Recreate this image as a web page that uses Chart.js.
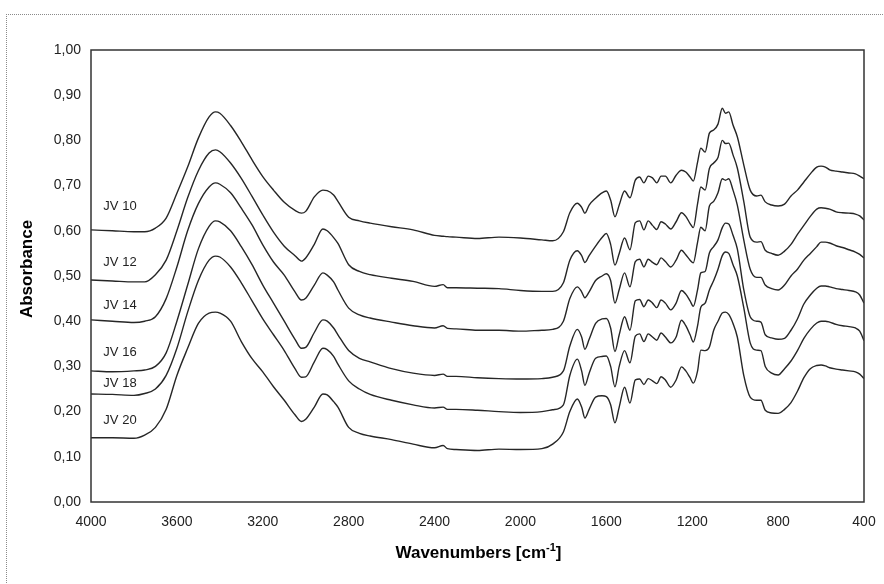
<!DOCTYPE html>
<html>
<head>
<meta charset="utf-8">
<script src="https://cdn.jsdelivr.net/npm/chart.js@4.4.1/dist/chart.umd.min.js"></script>
<style>
  html, body { margin: 0; padding: 0; background: #fff; }
  #wrap { position: relative; width: 884px; height: 584px; overflow: hidden; }
  #frame { position: absolute; left: 6px; top: 14px; width: 900px; height: 600px;
           border-top: 1px dotted #8a8a8a; border-left: 1px dotted #8a8a8a; pointer-events: none; }
  canvas { position: absolute; left: 0; top: 0; }
</style>
</head>
<body>
<div id="wrap">
  <canvas id="chart" width="884" height="584"></canvas>
  <div id="frame"></div>
</div>
<script>
// ── Data ────────────────────────────────────────────────────
const WN = [
  4000, 3900, 3800, 3750, 3700, 3650, 3600, 3550, 3500, 3450,
  3420, 3400, 3350, 3300, 3250, 3200, 3150, 3100, 3050, 3020,
  3000, 2960, 2920, 2900, 2870, 2850, 2800, 2750, 2700, 2600,
  2500, 2400, 2360, 2340, 2300, 2200, 2100, 2000, 1900, 1850,
  1800, 1770, 1735, 1715, 1700, 1680, 1650, 1620, 1600, 1580,
  1560, 1540, 1515, 1490, 1465, 1445, 1425, 1405, 1385, 1365,
  1345, 1325, 1300, 1275, 1250, 1230, 1210, 1195, 1175, 1160,
  1140, 1120, 1100, 1080, 1060, 1045, 1030, 1010, 990, 960,
  930, 900, 880, 860, 830, 800, 770, 740, 710, 680,
  650, 620, 600, 580, 560, 530, 500, 470, 440, 420,
  400
];

const JV10 = [
  0.602, 0.600, 0.598, 0.598, 0.606, 0.628, 0.683, 0.741, 0.805, 0.852,
  0.863, 0.860, 0.833, 0.797, 0.757, 0.720, 0.690, 0.663, 0.645, 0.639,
  0.643, 0.675, 0.690, 0.689, 0.679, 0.665, 0.630, 0.622, 0.617, 0.609,
  0.602, 0.590, 0.588, 0.587, 0.586, 0.583, 0.586, 0.584, 0.580, 0.578,
  0.598, 0.640, 0.661, 0.652, 0.639, 0.657, 0.672, 0.684, 0.688, 0.668,
  0.631, 0.657, 0.688, 0.673, 0.712, 0.719, 0.706, 0.721, 0.717, 0.706,
  0.721, 0.721, 0.706, 0.723, 0.734, 0.730, 0.719, 0.710, 0.752, 0.783,
  0.774, 0.816, 0.823, 0.836, 0.871, 0.860, 0.863, 0.834, 0.808, 0.746,
  0.690, 0.677, 0.679, 0.664, 0.657, 0.655, 0.659, 0.677, 0.690, 0.708,
  0.726, 0.741, 0.743, 0.741, 0.735, 0.732, 0.730, 0.728, 0.726, 0.721,
  0.715
];

const JV12 = [
  0.491, 0.489, 0.487, 0.487, 0.503, 0.535, 0.600, 0.673, 0.733, 0.772,
  0.779, 0.775, 0.750, 0.716, 0.676, 0.635, 0.597, 0.566, 0.545, 0.533,
  0.540, 0.570, 0.604, 0.600, 0.585, 0.572, 0.525, 0.510, 0.503, 0.495,
  0.488, 0.477, 0.481, 0.474, 0.474, 0.473, 0.472, 0.468, 0.466, 0.466,
  0.485, 0.535, 0.556, 0.545, 0.530, 0.545, 0.566, 0.585, 0.594, 0.570,
  0.524, 0.550, 0.584, 0.558, 0.618, 0.622, 0.602, 0.622, 0.612, 0.603,
  0.620, 0.615, 0.604, 0.620, 0.640, 0.632, 0.616, 0.607, 0.660, 0.697,
  0.690, 0.738, 0.750, 0.762, 0.800, 0.793, 0.794, 0.768, 0.739, 0.665,
  0.586, 0.575, 0.576, 0.557, 0.550, 0.546, 0.555, 0.570, 0.592, 0.612,
  0.632, 0.648, 0.651, 0.650, 0.648, 0.642, 0.640, 0.639, 0.637, 0.633,
  0.624
];

const JV14 = [
  0.403, 0.400, 0.397, 0.400, 0.410, 0.450, 0.520, 0.600, 0.660, 0.697,
  0.706, 0.703, 0.684, 0.650, 0.613, 0.569, 0.531, 0.502, 0.465, 0.447,
  0.451, 0.480, 0.507, 0.502, 0.487, 0.469, 0.429, 0.414, 0.407, 0.398,
  0.390, 0.385, 0.390, 0.384, 0.383, 0.380, 0.380, 0.378, 0.380, 0.382,
  0.400, 0.450, 0.476, 0.465, 0.452, 0.465, 0.490, 0.500, 0.505, 0.490,
  0.440, 0.470, 0.507, 0.476, 0.532, 0.537, 0.520, 0.537, 0.530, 0.525,
  0.540, 0.532, 0.520, 0.535, 0.557, 0.547, 0.535, 0.529, 0.575, 0.608,
  0.600, 0.655, 0.665, 0.684, 0.715, 0.712, 0.715, 0.690, 0.657, 0.580,
  0.515, 0.497, 0.497, 0.480, 0.472, 0.469, 0.480, 0.500, 0.515, 0.535,
  0.550, 0.565, 0.575, 0.575, 0.573, 0.567, 0.563, 0.558, 0.553, 0.548,
  0.540
];

const JV16 = [
  0.290, 0.288, 0.290, 0.292, 0.300, 0.330, 0.400, 0.480, 0.560, 0.610,
  0.622, 0.620, 0.600, 0.565, 0.525, 0.480, 0.440, 0.400, 0.360, 0.340,
  0.342, 0.375, 0.403, 0.400, 0.385, 0.370, 0.335, 0.318, 0.310, 0.295,
  0.285, 0.280, 0.283, 0.278, 0.278, 0.275, 0.273, 0.272, 0.273, 0.276,
  0.290, 0.345, 0.382, 0.365, 0.338, 0.360, 0.395, 0.405, 0.406, 0.385,
  0.333, 0.370, 0.410, 0.380, 0.445, 0.448, 0.432, 0.447, 0.440, 0.430,
  0.447, 0.440, 0.425, 0.440, 0.468, 0.460, 0.445, 0.433, 0.470, 0.507,
  0.510, 0.551, 0.565, 0.580, 0.607, 0.617, 0.615, 0.590, 0.560, 0.470,
  0.410, 0.400, 0.398, 0.370, 0.363, 0.360, 0.362, 0.380, 0.405, 0.438,
  0.458, 0.473, 0.478, 0.478, 0.476, 0.472, 0.470, 0.468, 0.465, 0.458,
  0.440
];

const JV18 = [
  0.239, 0.238, 0.236, 0.240, 0.250, 0.280, 0.340, 0.420, 0.490, 0.535,
  0.544, 0.542, 0.520, 0.485, 0.445, 0.405, 0.370, 0.335, 0.295, 0.276,
  0.277, 0.310, 0.340, 0.337, 0.322, 0.305, 0.268, 0.250, 0.238, 0.225,
  0.215, 0.208, 0.210, 0.205, 0.205, 0.203, 0.200, 0.198, 0.200, 0.204,
  0.215, 0.280, 0.316, 0.290, 0.258, 0.285, 0.318, 0.322, 0.323, 0.300,
  0.255, 0.300, 0.335, 0.308, 0.367, 0.372, 0.355, 0.372, 0.365, 0.358,
  0.374, 0.365, 0.352, 0.365, 0.402, 0.390, 0.370, 0.354, 0.390, 0.431,
  0.440, 0.469, 0.490, 0.515, 0.545, 0.553, 0.550, 0.525, 0.500, 0.430,
  0.352, 0.336, 0.335, 0.300, 0.285, 0.281, 0.295, 0.312, 0.335, 0.362,
  0.382, 0.396, 0.400, 0.400, 0.398, 0.393, 0.390, 0.388, 0.385, 0.378,
  0.357
];

const JV20 = [
  0.142, 0.142, 0.141, 0.148, 0.165, 0.205, 0.280, 0.340, 0.395, 0.418,
  0.420, 0.418, 0.400, 0.355, 0.317, 0.288, 0.255, 0.225, 0.193, 0.178,
  0.183, 0.210, 0.239, 0.237, 0.222, 0.210, 0.165, 0.152, 0.146, 0.138,
  0.128, 0.120, 0.125, 0.118, 0.116, 0.114, 0.117, 0.116, 0.118, 0.128,
  0.155, 0.200, 0.228, 0.210, 0.186, 0.205, 0.232, 0.235, 0.233, 0.215,
  0.175, 0.210, 0.254, 0.219, 0.270, 0.272, 0.260, 0.273, 0.268, 0.262,
  0.277, 0.270, 0.254, 0.270, 0.299, 0.290, 0.275, 0.263, 0.290, 0.336,
  0.335, 0.343, 0.380, 0.400, 0.418, 0.420, 0.415, 0.395, 0.365, 0.280,
  0.232, 0.225, 0.225, 0.203, 0.197, 0.196, 0.205, 0.220, 0.245, 0.275,
  0.295, 0.302, 0.303, 0.301, 0.297, 0.294, 0.292, 0.290, 0.288, 0.283,
  0.273
];

const NAMES   = ["JV 10", "JV 12", "JV 14", "JV 16", "JV 18", "JV 20"];
const SERIES  = [JV10, JV12, JV14, JV16, JV18, JV20];
const LABEL_WN = 3865;
const LABEL_Y  = [0.653, 0.529, 0.436, 0.332, 0.263, 0.181];
const X_TICKS  = [4000, 3600, 3200, 2800, 2400, 2000, 1600, 1200, 800, 400];

// ── Drawing ─────────────────────────────────────────────────
const FONT = "'Liberation Sans', Arial, sans-serif";
const INK  = "#262626";

const extras = {
  id: "extras",
  afterDraw(chart) {
    const { ctx, chartArea: a, scales: { x, y } } = chart;
    ctx.save();
    // plot frame
    ctx.strokeStyle = "#333";
    ctx.lineWidth = 1.5;
    ctx.strokeRect(a.left, a.top, a.right - a.left, a.bottom - a.top);

    // series labels
    ctx.fillStyle = "#222";
    ctx.font = "13px " + FONT;
    ctx.textAlign = "center";
    ctx.textBaseline = "middle";
    NAMES.forEach((n, i) => {
      ctx.fillText(n, x.getPixelForValue(LABEL_WN), y.getPixelForValue(LABEL_Y[i]));
    });

    // x title with superscript
    ctx.fillStyle = "#000";
    ctx.textAlign = "left";
    ctx.textBaseline = "alphabetic";
    const main = "Wavenumbers [cm", sup = "-1", end = "]";
    ctx.font = "bold 17px " + FONT;
    const w1 = ctx.measureText(main).width, w3 = ctx.measureText(end).width;
    ctx.font = "bold 11px " + FONT;
    const w2 = ctx.measureText(sup).width;
    const cx = (a.left + a.right) / 2 + 1;
    let tx = cx - (w1 + w2 + w3) / 2;
    const by = 558;
    ctx.font = "bold 17px " + FONT;
    ctx.fillText(main, tx, by); tx += w1;
    ctx.font = "bold 11px " + FONT;
    ctx.fillText(sup, tx, by - 7); tx += w2;
    ctx.font = "bold 17px " + FONT;
    ctx.fillText(end, tx, by);

    // y title
    ctx.translate(27, 269);
    ctx.rotate(-Math.PI / 2);
    ctx.textAlign = "center";
    ctx.textBaseline = "middle";
    ctx.font = "bold 17px " + FONT;
    ctx.fillText("Absorbance", 0, 0);
    ctx.restore();
  }
};

new Chart(document.getElementById("chart"), {
  type: "line",
  data: {
    datasets: SERIES.map((vals, i) => ({
      label: NAMES[i],
      data: WN.map((w, k) => ({ x: w, y: vals[k] })),
      borderColor: INK,
      borderWidth: 1.4,
      pointRadius: 0,
      fill: false,
      cubicInterpolationMode: "monotone"
    }))
  },
  options: {
    responsive: false,
    animation: false,
    devicePixelRatio: 1,
    layout: { padding: { top: 50, right: 20, left: 0, bottom: 0 } },
    plugins: { legend: { display: false }, tooltip: { enabled: false } },
    scales: {
      x: {
        type: "linear", reverse: true, min: 400, max: 4000,
        afterBuildTicks: s => { s.ticks = X_TICKS.map(v => ({ value: v })); },
        ticks: {
          color: "#222", font: { family: FONT, size: 14 }, padding: 12, maxRotation: 0, autoSkip: false,
          callback: v => String(v)
        },
        grid: { display: false, drawTicks: false },
        border: { display: false },
        afterFit: s => { s.height = 82; s.paddingLeft = 0; s.paddingRight = 0; }
      },
      y: {
        min: 0, max: 1,
        ticks: {
          stepSize: 0.1, color: "#222", font: { family: FONT, size: 14 }, padding: 10,
          callback: v => v.toFixed(2).replace(".", ",")
        },
        grid: { display: false, drawTicks: false },
        border: { display: false },
        afterFit: s => { s.width = 91; s.paddingTop = 0; s.paddingBottom = 0; }
      }
    }
  },
  plugins: [extras]
});
</script>
</body>
</html>
